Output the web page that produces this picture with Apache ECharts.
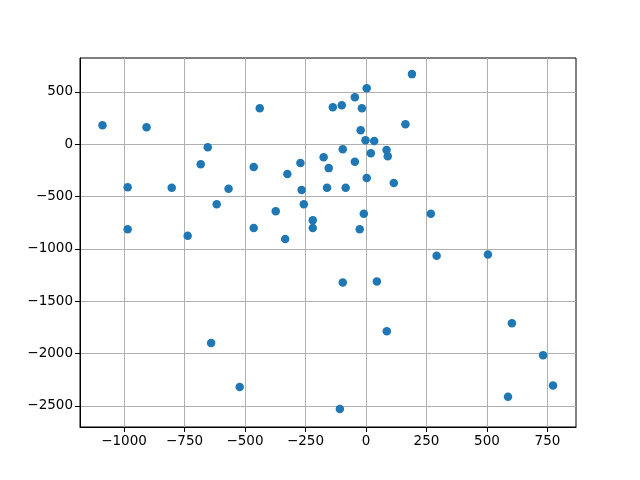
<!DOCTYPE html>
<html>
<head>
<meta charset="utf-8">
<script src="https://cdn.jsdelivr.net/npm/echarts@6/dist/echarts.min.js"></script>
<style>html,body{margin:0;padding:0;background:#fff}#c{width:640px;height:480px}</style>
</head>
<body>
<div id="c"></div>
<script>
const xValues = [-1089,-907,-439,-654,-683,-464,-325,-985,-803,-568,-617,-373,-985,-737,-464,-334,
  190,3,-46,-137,-100,-17,163,-22,-2,34,-96,85,20,90,-175,-271,-46,-154,3,115,-266,-161,-84,-257,-9,268,-220,-220,-26,
  -640,-522,292,504,-96,45,603,86,732,773,587,-108];
const yValues = [181,162,343,-29,-191,-219,-286,-411,-417,-427,-573,-640,-812,-876,-802,-907,
  669,535,449,353,372,343,191,134,38,29,-48,-55,-86,-115,-124,-181,-169,-229,-324,-372,-439,-417,-417,-573,-666,-666,-726,-802,-812,
  -1900,-2321,-1065,-1055,-1321,-1311,-1711,-1788,-2016,-2306,-2414,-2529];
const xTicks = [-1000,-750,-500,-250,0,250,500,750];
const yTicks = [-2500,-2000,-1500,-1000,-500,0,500];

const points = xValues.map((x,i)=>[x,yValues[i]]);
const chart = echarts.init(document.getElementById('c'), null, {renderer:'canvas'});
const font = {fontFamily:'DejaVu Sans', fontSize:13.5, color:'#000'};
chart.setOption({
  animation:false,
  backgroundColor:'#fff',
  grid:{left:80, right:64, top:58, bottom:53, show:true, borderColor:'#000', borderWidth:1, backgroundColor:'transparent'},
  xAxis:{type:'value', min:-1182, max:868,
    axisLine:{show:true, onZero:false, lineStyle:{color:'#000', width:1}},
    axisTick:{show:true, customValues:xTicks, length:5, lineStyle:{color:'#000'}},
    axisLabel:{customValues:xTicks, margin:7, ...font, formatter:v=>String(v).replace('-','\u2212')},
    splitLine:{show:true, lineStyle:{color:'#b0b0b0', width:1}}},
  yAxis:{type:'value', min:-2702, max:823,
    axisLine:{show:true, onZero:false, lineStyle:{color:'#000', width:1}},
    axisTick:{show:true, customValues:yTicks, length:5, lineStyle:{color:'#000'}},
    axisLabel:{customValues:yTicks, margin:7, ...font, formatter:v=>String(v).replace('-','\u2212')},
    splitLine:{show:true, lineStyle:{color:'#b0b0b0', width:1}}},
  series:[{type:'scatter', data:points, symbolSize:8.5, itemStyle:{color:'#1f77b4', opacity:1}}]
});
</script>
</body>
</html>
